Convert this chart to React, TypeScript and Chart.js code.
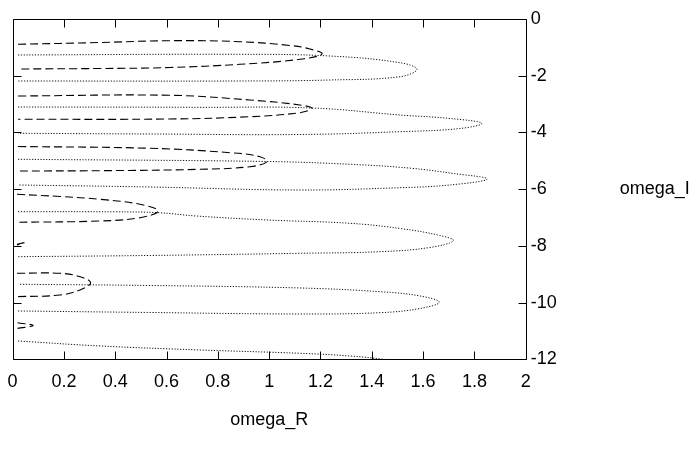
import { useEffect, useRef } from 'react';
import { Chart, registerables } from 'chart.js';

Chart.register(...registerables);

type Pt = [number, number];

const xTickLabels = ['0', '0.2', '0.4', '0.6', '0.8', '1', '1.2', '1.4', '1.6', '1.8', '2'];
const yTickLabels = ['-12', '-10', '-8', '-6', '-4', '-2', '0'];
const xTitle = 'omega_R';
const yTitle = 'omega_I';

// dashed loops (omega_R, omega_I)
const dashedLoop1: Pt[] = [[0.021, -0.892], [0.341, -0.829], [0.614, -0.765], [0.886, -0.8], [1.081, -0.934], [1.159, -1.058], [1.206, -1.234], [1.12, -1.421], [0.886, -1.597], [0.614, -1.71], [0.341, -1.745], [0.021, -1.763]];
const dashedLoop2: Pt[] = [[0.021, -2.715], [0.614, -2.69], [0.925, -2.856], [1.12, -3.032], [1.167, -3.149], [1.12, -3.304], [0.925, -3.445], [0.614, -3.526], [0.021, -3.537]];
const dashedLoop3: Pt[] = [[0.021, -4.496], [0.536, -4.559], [0.847, -4.714], [0.964, -4.855], [0.992, -5.032], [0.925, -5.208], [0.73, -5.3], [0.341, -5.349], [0.021, -5.36]];
const dashedLoop4: Pt[] = [[0.017, -6.182], [0.185, -6.259], [0.341, -6.358], [0.497, -6.534], [0.567, -6.77], [0.497, -7.006], [0.341, -7.123], [0.017, -7.168]];
const dashedLoopTinyA: Pt[] = [[0.017, -7.94], [0.045, -7.89], [0.017, -7.97]];
const dashedLoop5: Pt[] = [[0.017, -8.967], [0.185, -8.967], [0.263, -9.087], [0.304, -9.298], [0.263, -9.556], [0.185, -9.732], [0.017, -9.792]];
const dashedLoopTinyB: Pt[] = [[0.019, -10.71], [0.08, -10.81], [0.019, -10.91]];

// dotted loops
const dottedLoop1: Pt[] = [[0.021, -1.269], [0.886, -1.245], [1.237, -1.305], [1.51, -1.541], [1.576, -1.774], [1.51, -2.035], [1.237, -2.151], [0.886, -2.186], [0.021, -2.186]];
const dottedLoop2: Pt[] = [[0.021, -3.103], [0.73, -3.114], [1.167, -3.138], [1.51, -3.385], [1.705, -3.508], [1.829, -3.678], [1.744, -3.861], [1.51, -3.974], [1.12, -4.073], [0.536, -4.055], [0.021, -4.03]];
const dottedLoop3: Pt[] = [[0.021, -4.947], [0.992, -5.025], [1.315, -5.123], [1.55, -5.26], [1.72, -5.45], [1.85, -5.642], [1.705, -5.853], [1.51, -5.949], [1.12, -6.03], [0.536, -5.924], [0.021, -5.853]];
const dottedLoop4: Pt[] = [[0.021, -6.795], [0.4, -6.8], [0.567, -6.83], [0.72, -6.95], [1.0, -7.09], [1.315, -7.204], [1.51, -7.387], [1.666, -7.634], [1.718, -7.817], [1.627, -8.057], [1.432, -8.205], [1.12, -8.262], [0.536, -8.339], [0.021, -8.381]];
const dottedLoop5: Pt[] = [[0.029, -9.355], [0.536, -9.397], [1.12, -9.485], [1.432, -9.616], [1.588, -9.767], [1.663, -9.986], [1.588, -10.208], [1.432, -10.356], [1.12, -10.402], [0.536, -10.349], [0.021, -10.296]];
const dottedTail: Pt[] = [[0.021, -11.354], [0.341, -11.53], [0.73, -11.671], [1.12, -11.788], [1.315, -11.883], [1.444, -12.0], [1.55, -12.15]];

const dashedCurves = [dashedLoop1, dashedLoop2, dashedLoop3, dashedLoop4, dashedLoopTinyA, dashedLoop5, dashedLoopTinyB];
const dottedCurves = [dottedLoop1, dottedLoop2, dottedLoop3, dottedLoop4, dottedLoop5, dottedTail];

const FONT = '"Liberation Sans", Arial, sans-serif';
const FONT_SIZE = 18;

export default function App() {
  const ref = useRef<HTMLCanvasElement>(null);

  useEffect(() => {
    const canvas = ref.current;
    if (!canvas) return;
    const toData = (pts: Pt[]) => pts.map(([x, y]) => ({ x, y }));
    const datasets: any[] = [
      ...dashedCurves.map((pts) => ({
        data: toData(pts),
        borderColor: '#000',
        borderWidth: 1.1,
        borderDash: [8, 4],
        showLine: true,
        pointRadius: 0,
        tension: 0.4,
        fill: false,
      })),
      ...dottedCurves.map((pts) => ({
        data: toData(pts),
        borderColor: '#111',
        borderWidth: 1,
        borderDash: [1.2, 1.6],
        showLine: true,
        pointRadius: 0,
        tension: 0.4,
        fill: false,
      })),
    ];

    const framePlugin = {
      id: 'gnuFrame',
      afterDraw(chart: any) {
        const { ctx, chartArea } = chart;
        const { left, right, top, bottom } = chartArea;
        const xs = chart.scales.x;
        const ys = chart.scales.y;
        ctx.save();
        ctx.strokeStyle = '#000';
        ctx.lineWidth = 1;
        const L = Math.round(left) + 0.5;
        const R = Math.round(right) + 0.5;
        const T = Math.round(top) + 0.5;
        const B = Math.round(bottom) + 0.5;
        ctx.beginPath();
        ctx.rect(L, T, R - L, B - T);
        ctx.stroke();
        const len = 8;
        ctx.beginPath();
        xs.ticks.forEach((t: any) => {
          const px = Math.round(xs.getPixelForValue(t.value)) + 0.5;
          ctx.moveTo(px, B);
          ctx.lineTo(px, B - len);
          ctx.moveTo(px, T);
          ctx.lineTo(px, T + len);
        });
        ys.ticks.forEach((t: any) => {
          const py = Math.round(ys.getPixelForValue(t.value)) + 0.5;
          ctx.moveTo(L, py);
          ctx.lineTo(L + len, py);
          ctx.moveTo(R, py);
          ctx.lineTo(R - len, py);
        });
        ctx.stroke();
        ctx.fillStyle = '#000';
        ctx.font = `${FONT_SIZE}px ${FONT}`;
        ctx.textAlign = 'center';
        ctx.textBaseline = 'middle';
        ctx.fillText(xTitle, (left + right) / 2, bottom + 61);
        ctx.textAlign = 'left';
        ctx.fillText(yTitle, right + 94, (top + bottom) / 2);
        ctx.restore();
      },
    };

    const chart = new Chart(canvas, {
      type: 'scatter',
      data: { datasets },
      options: {
        responsive: false,
        animation: false,
        devicePixelRatio: 1,
        layout: { padding: { left: 12.6, top: 19, right: 0, bottom: 0 } },
        plugins: { legend: { display: false }, tooltip: { enabled: false } },
        scales: {
          x: {
            type: 'linear',
            position: 'bottom',
            min: 0,
            max: 2,
            grid: { display: false, drawTicks: false },
            border: { display: false },
            ticks: {
              stepSize: 0.2,
              padding: 12,
              color: '#000',
              autoSkip: false,
              maxRotation: 0,
              font: { family: FONT, size: FONT_SIZE },
              callback: (_v: any, i: number) => xTickLabels[i],
            },
            afterFit: (s: any) => {
              s.height = 455 - 359.3;
              s.paddingLeft = 0;
              s.paddingRight = 0;
            },
          },
          y: {
            type: 'linear',
            position: 'right',
            min: -12,
            max: 0,
            grid: { display: false, drawTicks: false },
            border: { display: false },
            ticks: {
              stepSize: 2,
              padding: 5,
              color: '#000',
              autoSkip: false,
              font: { family: FONT, size: FONT_SIZE },
              callback: (_v: any, i: number) => yTickLabels[i],
            },
            afterFit: (s: any) => {
              s.width = 691 - 525.7;
              s.paddingTop = 0;
              s.paddingBottom = 0;
            },
          },
        },
      },
      plugins: [framePlugin],
    } as any);

    return () => chart.destroy();
  }, []);

  return (
    <canvas
      ref={ref}
      width={691}
      height={455}
      style={{ position: 'fixed', left: 0, top: 0, width: 691, height: 455, display: 'block', background: '#fff' }}
    />
  );
}
